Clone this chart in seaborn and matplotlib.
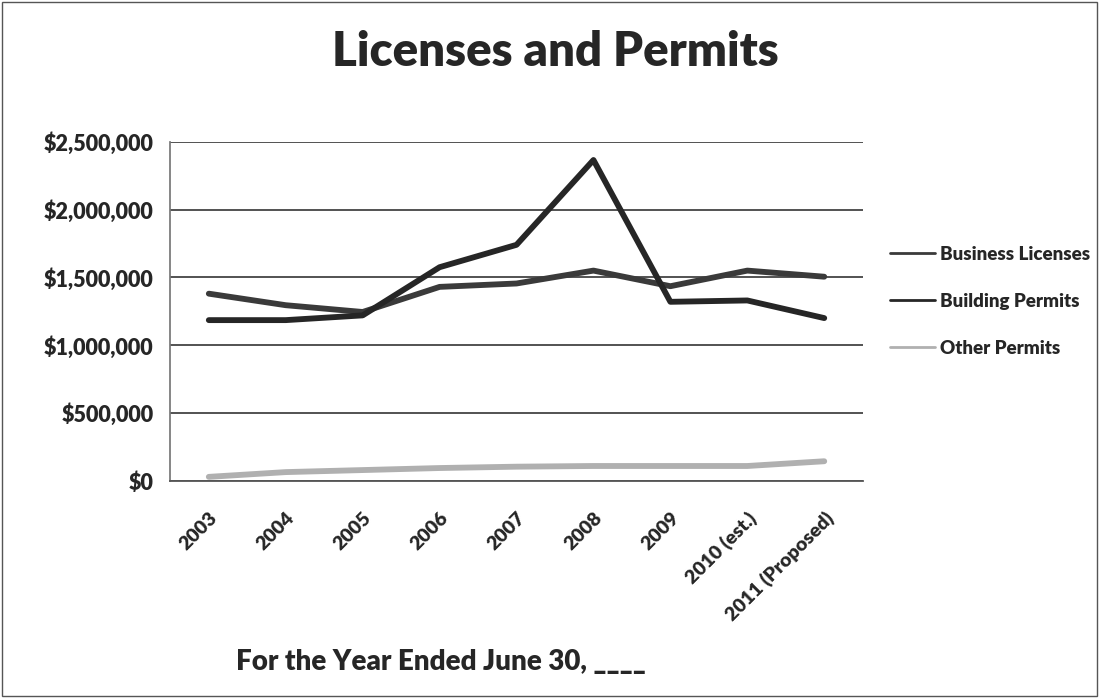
import numpy as np
import pandas as pd
import matplotlib
matplotlib.use("Agg")
import matplotlib.pyplot as plt
from matplotlib.ticker import FuncFormatter, MultipleLocator, FixedLocator
import seaborn as sns

years = ["2003", "2004", "2005", "2006", "2007", "2008", "2009",
         "2010 (est.)", "2011 (Proposed)"]
business_licenses = [1380000, 1295000, 1245000, 1430000, 1455000, 1550000,
                     1435000, 1550000, 1505000]
building_permits = [1185000, 1185000, 1220000, 1575000, 1740000, 2365000,
                    1320000, 1330000, 1200000]
other_permits = [30000, 65000, 80000, 95000, 105000, 110000, 110000,
                 110000, 145000]
series_names = ["Business Licenses", "Building Permits", "Other Permits"]
series_colors = ["#3a3a3a", "#262626", "#b0b0b0"]

df = pd.DataFrame({
    "year": years * 3,
    "pos": list(range(len(years))) * 3,
    "value": business_licenses + building_permits + other_permits,
    "series": sum([[n] * len(years) for n in series_names], []),
})

sns.set_theme(style="white")
plt.rcParams["font.family"] = ["Lato", "DejaVu Sans"]

fig = plt.figure(figsize=(10.99, 6.98), dpi=100)
ax = fig.add_axes([0.155, 0.311, 0.630, 0.486])

sns.lineplot(data=df, x="pos", y="value", hue="series",
             palette=dict(zip(series_names, series_colors)),
             linewidth=4.2, ax=ax, legend=True)

ax.set_xlim(-0.5, len(years) - 0.5)
ax.set_ylim(0, 2500000)
ax.yaxis.set_major_locator(MultipleLocator(500000))
ax.yaxis.set_major_formatter(FuncFormatter(lambda v, p: f"${v:,.0f}"))
ax.grid(axis="y", color="#444444", linewidth=1.3)
ax.set_axisbelow(True)

ax.xaxis.set_major_locator(FixedLocator(range(len(years))))
ax.set_xticklabels(years, rotation=45, ha="right", rotation_mode="anchor",
                   fontsize=14, fontweight="heavy")
ax.xaxis.set_minor_locator(FixedLocator(np.arange(-0.5, len(years), 1.0)))
ax.tick_params(axis="x", which="major", length=0, pad=20)
ax.tick_params(axis="x", which="minor", length=6, color="#555555", width=1)
ax.tick_params(axis="y", length=6, color="#555555", width=1, pad=6,
               labelsize=15.5)
for lbl in ax.get_yticklabels():
    lbl.set_fontweight("heavy")

for side in ["top", "right"]:
    ax.spines[side].set_visible(False)
ax.spines["left"].set_color("#777777")
ax.spines["bottom"].set_color("#555555")
ax.spines["bottom"].set_linewidth(1.3)

ax.set_xlabel("")
ax.set_ylabel("")

leg = ax.legend(loc="center left", bbox_to_anchor=(1.02, 0.53),
                frameon=False, handlelength=2.4, labelspacing=1.6,
                fontsize=13.5, borderaxespad=0.3, handletextpad=0.3)
for line in leg.get_lines():
    line.set_linewidth(2)
for txt in leg.get_texts():
    txt.set_fontweight("heavy")

fig.text(0.505, 0.925, "Licenses and Permits", ha="center", va="center",
         fontsize=34, fontweight="heavy")
fig.text(0.401, 0.052, "For the Year Ended June 30, ____", ha="center",
         va="center", fontsize=20, fontweight="heavy")

fig.patches.append(plt.Rectangle((0.002, 0.003), 0.996, 0.994,
                                 transform=fig.transFigure, fill=False,
                                 edgecolor="#555555", linewidth=1))

fig.savefig("out.png", dpi=100, facecolor="white")
